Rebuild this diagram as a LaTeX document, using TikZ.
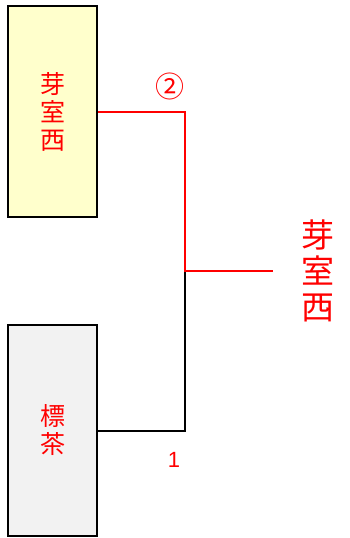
\documentclass[tikz,border=0pt]{standalone}
\usepackage{fontspec}
\setmainfont{Liberation Sans}
\newfontfamily\cjk{Noto Sans CJK JP}
\definecolor{paleyellow}{HTML}{FFFFCC}
\definecolor{palegrey}{HTML}{F2F2F2}
\begin{document}
\begin{tikzpicture}[x=1pt,y=-1pt,
    team/.style={draw, line width=1.6pt, minimum width=89pt, minimum height=211pt, inner sep=0pt, align=center, text=red, font={\cjk\fontsize{25}{28}\selectfont}},
    win/.style={draw=red, line width=1.8pt},
    lose/.style={draw=black, line width=1.1pt}]
    \useasboundingbox (0,0) rectangle (349,538);
    \node[team, fill=paleyellow] (T) at (52.5,111.5) {芽\\室\\西};
    \node[team, fill=palegrey] (B) at (52.5,430.5) {標\\茶};
    \coordinate (M) at (185,271);
    \coordinate (W) at (273,271);
    \coordinate (TC) at (185,112);
    \coordinate (BC) at (185,431);
    \draw[lose] (B.east |- BC) -- (BC) -- (M);
    \draw[win] (T.east |- TC) -- (TC) -- (M) -- (W);
    \node[text=red, align=center, font={\cjk\fontsize{33}{36}\selectfont}] (winner) at (318,271) {芽\\室\\西};
    \node[text=red, font={\cjk\fontsize{29}{29}\selectfont}] (score) at (170,86) {②};
    \node[text=red, font={\fontsize{22}{22}\selectfont}] (score2) at (174,460) {1};
\end{tikzpicture}
\end{document}
